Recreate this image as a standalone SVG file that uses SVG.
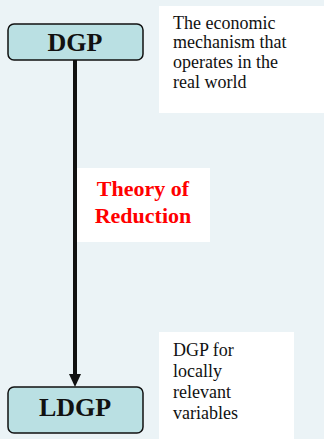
<svg xmlns="http://www.w3.org/2000/svg" width="324" height="439" viewBox="0 0 324 439">
<defs>
<style>
.node{fill:#bae0e3;stroke:#111;stroke-width:1.5}
.lbl{font-weight:bold;font-size:26px;fill:#111;text-anchor:middle}
.note{fill:#fff}
.nt{font-size:18px;fill:#111}
.red{font-weight:bold;font-size:22px;fill:#ff0000;text-anchor:middle}
</style>
</defs>
<rect width="324" height="439" fill="#ebf3f6"/>
<g id="connectors">
<line x1="75" y1="60" x2="75" y2="374" stroke="#111" stroke-width="4"/>
<path d="M69,374 L81,374 L75,387 Z" fill="#111"/>
</g>
<g id="note-top" font-family="'Liberation Serif', 'Times New Roman', serif">
<rect class="note" x="159" y="6" width="165" height="107"/>
<text class="nt" x="173" y="29">The economic</text>
<text class="nt" x="173" y="48">mechanism that</text>
<text class="nt" x="173" y="68">operates in the</text>
<text class="nt" x="173" y="88">real world</text>
</g>
<g id="theory" font-family="'Liberation Serif', 'Times New Roman', serif">
<rect class="note" x="77" y="168" width="133" height="74"/>
<text class="red" x="143" y="196">Theory of</text>
<text class="red" x="143" y="223">Reduction</text>
</g>
<g id="note-bottom" font-family="'Liberation Serif', 'Times New Roman', serif">
<rect class="note" x="159" y="332" width="135" height="107"/>
<text class="nt" x="173" y="356">DGP for</text>
<text class="nt" x="173" y="377">locally</text>
<text class="nt" x="173" y="398">relevant</text>
<text class="nt" x="173" y="419">variables</text>
</g>
<g id="dgp" font-family="'Liberation Serif', 'Times New Roman', serif">
<rect class="node" x="8" y="24" width="135" height="36" rx="6"/>
<text class="lbl" x="75" y="51">DGP</text>
</g>
<g id="ldgp" font-family="'Liberation Serif', 'Times New Roman', serif">
<rect class="node" x="8" y="387" width="135" height="46" rx="6"/>
<text class="lbl" x="75" y="416">LDGP</text>
</g>
</svg>
